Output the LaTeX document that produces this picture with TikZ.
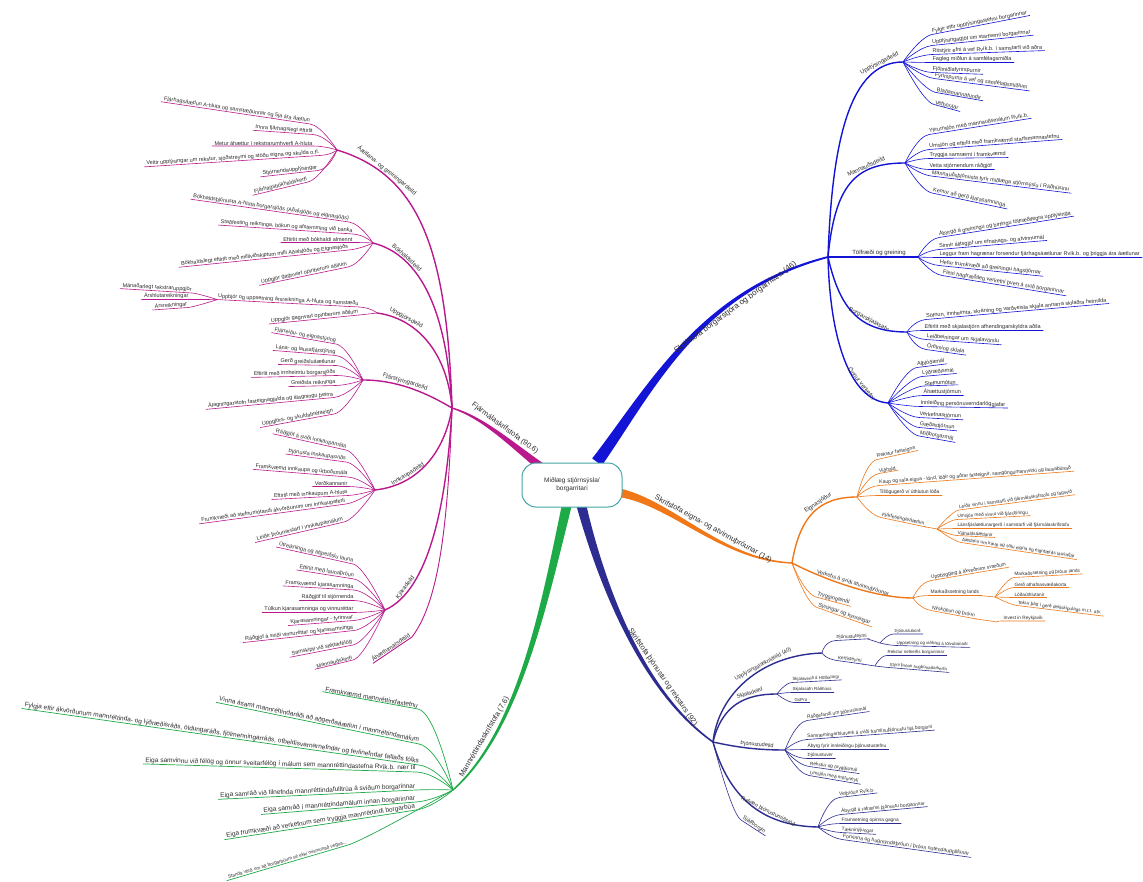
\documentclass[tikz,border=0pt]{standalone}
\usepackage{fontspec}
\setmainfont{Liberation Sans}
\usetikzlibrary{calc}
\definecolor{mag}{RGB}{185,25,140}
\definecolor{blu}{RGB}{20,20,215}
\definecolor{ora}{RGB}{240,120,25}
\definecolor{grn}{RGB}{30,170,70}
\definecolor{nav}{RGB}{45,45,145}
\definecolor{ctr}{RGB}{70,165,165}
\definecolor{txt}{RGB}{45,45,45}
\newcommand\cdist{12pt}
\newcommand\leafR[5][0]{%
  \node[leaf,anchor=south west,rotate=#1] (#3) at #4 {#5};
  \draw[lk] (#2) .. controls (#2) and ($(#3.south west)!-\cdist!(#3.south east)$) .. (#3.south west) -- ($(#3.south east)!-2pt!(#3.south west)$);}
\newcommand\leafL[5][0]{%
  \node[leaf,anchor=south east,rotate=#1] (#3) at #4 {#5};
  \draw[lk] (#2) .. controls (#2) and ($(#3.south east)!-\cdist!(#3.south west)$) .. (#3.south east) -- ($(#3.south west)!-2pt!(#3.south east)$);}
\newcommand\brtaper[6]{%
  \fill[#1] ($#2!#6pt!90:#3$) .. controls ($#3!0.6*#6pt!90:#4$) and ($#4!0.3*#6pt!90:#5$) .. ($#5!0.15*#6pt!-90:#4$) -- ($#5!0.15*#6pt!90:#4$) .. controls ($#4!0.3*#6pt!-90:#5$) and ($#3!0.6*#6pt!-90:#4$) .. ($#2!#6pt!-90:#3$) -- cycle;}
\begin{document}
\begin{tikzpicture}[x=1pt,y=-1pt,
  leaf/.style={inner sep=0.4pt,text=txt,font=\fontsize{5}{6}\selectfont},
  sub/.style={line width=1.4pt,line cap=round},
  slab/.style={sloped,above,inner sep=0.8pt,text=txt,font=\fontsize{6}{7}\selectfont},
  mlab/.style={sloped,above=4pt,inner sep=0.5pt,text=txt,font=\fontsize{7.5}{9}\selectfont}]
\useasboundingbox (0,0) rectangle (1143,882);
\fill[white] (0,0) rectangle (1143,882);
% hubs
\coordinate (sM) at (548,472);  \coordinate (hM) at (452,408);
\coordinate (sB) at (597,462);  \coordinate (hBl) at (828,257);
\coordinate (sO) at (615,492);  \coordinate (hOr) at (792,563);
\coordinate (sN) at (580,500);  \coordinate (hN) at (713,742);
\coordinate (sG) at (568,500);  \coordinate (hG) at (453,790);
\coordinate (hA) at (337,150); \coordinate (hB) at (373,243); \coordinate (hU) at (377,313);
\coordinate (hF) at (363,380); \coordinate (hI) at (375,490); \coordinate (hK) at (385,610);
\coordinate (hUp) at (903,62); \coordinate (hMa) at (905,163); \coordinate (hT) at (918,257);
\coordinate (hBs) at (907,332); \coordinate (hO) at (888,403);
\coordinate (hE) at (857,497); \coordinate (hFj) at (937,529); \coordinate (hV) at (913,598);
\coordinate (hMl) at (995,597); \coordinate (hNy) at (997,622);
\coordinate (hIT) at (822,653); \coordinate (hTh) at (880,643); \coordinate (hKe) at (875,666);
\coordinate (hSk) at (777,694); \coordinate (hTj) at (785,750); \coordinate (hRa) at (818,827);
% main tapered branches
\brtaper{mag}{(sM)}{(515,448)}{(485,418)}{(hM)}{4.5}
\path (hM) .. controls (485,418) and (515,448) .. (sM) node[mlab,pos=.5]{Fjármálaskrifstofa (90.6)};
\brtaper{blu}{(sB)}{(650,390)}{(700,290)}{(hBl)}{6}
\path (sB) .. controls (650,390) and (700,290) .. (hBl) node[mlab,below=6pt,pos=.7,font=\fontsize{8}{9}\selectfont]{Skrifstofa borgarstjóra og borgarritara (46)};
\brtaper{ora}{(sO)}{(670,500)}{(720,560)}{(hOr)}{4.5}
\path (sO) .. controls (670,500) and (720,560) .. (hOr) node[mlab,pos=.57]{Skrifstofa eigna- og atvinnuþróunar (14)};
\brtaper{nav}{(sN)}{(600,580)}{(640,690)}{(hN)}{5}
\path (sN) .. controls (600,580) and (640,690) .. (hN) node[mlab,pos=.7]{Skrifstofa þjónustu og reksturs (92)};
\brtaper{grn}{(sG)}{(545,600)}{(520,730)}{(hG)}{5}
\path (hG) .. controls (520,730) and (545,600) .. (sG) node[mlab,pos=.22]{Mannréttindaskrifstofa (7.6)};
% ---------------- magenta
\begin{scope}[lk/.style={draw=mag,line width=0.6pt},leaf/.style={inner sep=0.4pt,text=txt,font=\fontsize{5.5}{6}\selectfont}]
\draw[mag,sub] (hA) .. controls (420,175) and (447,250) .. (hM) node[slab,pos=.22]{Áætlana- og greiningardeild};
\draw[mag,sub] (hB) .. controls (420,255) and (447,310) .. (hM) node[slab,pos=.25]{Bókhaldsdeild};
\draw[mag,sub] (hU) .. controls (415,318) and (447,350) .. (hM) node[slab,pos=.25]{Uppgjörsdeild};
\draw[mag,sub] (hF) .. controls (400,380) and (430,395) .. (hM) node[slab,pos=.4]{Fjárstýringardeild};
\draw[mag,sub] (hI) .. controls (420,485) and (445,450) .. (hM) node[slab,pos=.3]{Innkaupadeild};
\draw[mag,sub] (hK) .. controls (430,590) and (447,500) .. (hM) node[slab,pos=.2]{Kjaradeild};
\node[slab,sloped=false,anchor=south east,rotate=34] (lAh) at (412,637) {Áhættumatsdeild};
\draw[mag,line width=0.9pt] (hM) .. controls (448,520) and (440,600) .. (lAh.south east) -- (lAh.south west);
\leafL[-8.5]{hA}{a1}{(310,124)}{Fjárhagsáætlun A-hluta og samstæðunnar og 5ja ára áætlun}
\leafL[-4]{hA}{a2}{(313,134.5)}{Innra fjárhagslegt eftirlit}
\leafL{hA}{a3}{(313,146)}{Metur áhættur í rekstrarumhverfi A-hluta}
\leafL[3.7]{hA}{a4}{(320,155.5)}{Veitir upplýsingar um rekstur, sjóðstreymi og stöðu eigna og skulda o.fl.}
\leafL[6.3]{hA}{a5}{(318,170.5)}{Stjórnendaupplýsingar}
\leafL[13.5]{hA}{a6}{(308,182)}{Fjárhagsbókhaldskerfi}
\leafL[-8.2]{hB}{b1}{(349,222)}{Bókhaldsþjónusta A-hluta borgarsjóðs (Aðalsjóðs og eignasjóðs)}
\leafL[-3.8]{hB}{b2}{(353,234)}{Staðfesting reikninga, bókun og afstemming við banka}
\leafL{hB}{b3}{(353,242.5)}{Eftirlit með bókhaldi almennt}
\leafL[5.8]{hB}{b4}{(349,250)}{Bókhaldslegt eftirlit með milliviðskiptum milli Aðalsjóðs og Eignasjóðs}
\leafL[11.7]{hB}{b5}{(348,267)}{Uppgjör gagnvart opinberum aðilum}
\leafL[-3]{hU}{u1}{(359,307)}{Uppbjór og uppsetning ársreikninga A-hluta og samstæðu}
\coordinate (hUa) at (u1.south west);
\leafL[5.7]{hU}{u2}{(359,315)}{Uppgjör gagnvart opinberum aðilum}
\leafL[-10]{hF}{f1}{(336,344)}{Fjárreiðu- og eignastýring}
\leafL[-4.6]{hF}{f2}{(336,355.5)}{Lána- og lausafjárstýring}
\leafL[-1]{hF}{f3}{(336,365.5)}{Gerð greiðsluáætlunar}
\leafL[1.3]{hF}{f4}{(336,375.5)}{Eftirlit með innheimtu borgarsjóðs}
\leafL[1.3]{hF}{f5}{(336,385.5)}{Greiðsla reikninga}
\leafL[5.3]{hF}{f6}{(334,397.5)}{Álagningarstofn fasteignagjalda og álagningu þeirra}
\leafL[10.4]{hF}{f7}{(334,414)}{Uppgjörs- og skuldabréfaeign}
\leafL[-12.5]{hI}{i1}{(346,450)}{Ráðgjöf á sviði innkaupamála}
\leafL[-7.5]{hI}{i2}{(346,462)}{Þjónusta innkaupasviðs}
\leafL[-4.6]{hI}{i3}{(348,477)}{Framkvæmd innkaupa og útboðsmála}
\leafL{hI}{i4}{(348,486.5)}{Verðkannanir}
\leafL[3]{hI}{i5}{(348,495.5)}{Eftirlit með innkaupum A-hluta}
\leafL[7.7]{hI}{i6}{(346,504)}{Frumkvæði að stefnumótandi ákvörðunum um innkaupaferli}
\leafL[13]{hI}{i7}{(344,522)}{Leiðir þróunarstarf í innkaupamálum}
\leafL[-12.5]{hK}{k1}{(353,564)}{Útreikninga og afgreiðslu launa}
\leafL[-9]{hK}{k2}{(354,579)}{Eftirlit með launaþróun}
\leafL[-3.3]{hK}{k3}{(354,590)}{Framkvæmd kjarasamninga}
\leafL{hK}{k4}{(354,600.5)}{Ráðgjöf til stjórnenda}
\leafL{hK}{k5}{(354,612.5)}{Túlkun kjarasamninga og vinnuréttar}
\leafL[4.4]{hK}{k6}{(354,620.5)}{Kjarasamningar - fyrirsvar}
\leafL[6.2]{hK}{k7}{(354,630.5)}{Ráðgjöf á sviði vinnuréttar og kjarasamninga}
\leafL[11]{hK}{k8}{(353,645)}{Samskipti við stéttarfélög}
\leafL[13.7]{hK}{k9}{(353,660)}{Mannauðskerfi}
\renewcommand\cdist{6pt}
\leafL[-3.5]{hUa}{u3}{(192,293)}{Mánaðarlegt rekstraruppgjör}
\leafL{hUa}{u4}{(189,299.5)}{Árshlutareikningar}
\leafL[4]{hUa}{u5}{(188,307.5)}{Ársreikningar}
\end{scope}
% ---------------- green
\begin{scope}[lk/.style={draw=grn,line width=0.7pt},leaf/.style={inner sep=0.4pt,text=txt,font=\fontsize{6.5}{7}\selectfont}]
\renewcommand\cdist{18pt}
\leafL[-10.3]{hG}{g1}{(418,709)}{Framkvæmd mannréttindastefnu}
\leafL[-11.6]{hG}{g2}{(419,744)}{Vinna ásamt mannréttindaráði að aðgerðaáætlun í mannréttindamálum}
\leafL[-8.1]{hG}{g3}{(419,765)}{Fylgja eftir ákvörðunum mannréttinda- og lýðræðisráðs, öldungaráðs, fjölmenningarráðs, ofbeldisvarnarnefndar og ferlinefndar fatlaðs fólks}
\leafL[-1.7]{hG}{g4}{(416,772)}{Eiga samvinnu við félög og önnur sveitarfélög í málum sem mannréttindastefna Rvík.b. nær til}
\leafL[2.7]{hG}{g5}{(416,790)}{Eiga samráð við tilnefnda mannréttindafulltrúa á sviðum borgarinnar}
\leafL[4.6]{hG}{g6}{(416,802)}{Eiga samráð í mannréttindamálum innan borgarinnar}
\leafL[8.8]{hG}{g7}{(416,810)}{Eiga frumkvæði að verkefnum sem tryggja mannréttindi borgarbúa}
\leafL[16.4]{hG}{g8}{(348,845)}{\fontsize{4.7}{5}\selectfont Standa vörð um að borgarbúum sé ekki mismunað vegna...}
\end{scope}
% ---------------- blue
\begin{scope}[lk/.style={draw=blu,line width=0.6pt},leaf/.style={inner sep=0.4pt,text=txt,font=\fontsize{5.5}{6}\selectfont}]
\draw[blu,sub] (hBl) .. controls (832,140) and (850,62) .. (hUp) node[slab,pos=.85]{Upplýsingadeild};
\draw[blu,sub] (hBl) .. controls (835,185) and (855,163) .. (hMa) node[slab,pos=.7]{Mannauðsdeild};
\draw[blu,sub] (hBl) .. controls (860,257) and (890,257) .. (hT) node[slab,pos=.55]{Tölfræði og greining};
\draw[blu,sub] (hBl) .. controls (840,310) and (860,332) .. (hBs) node[slab,pos=.65]{Borgarskjalasafn};
\draw[blu,sub] (hBl) .. controls (830,340) and (850,400) .. (hO) node[slab,pos=.7]{Önnur verkefni};
\leafR[11]{hUp}{p1}{(932,34.5)}{Fylgir eftir upplýsingastefnu borgarinnar}
\leafR[5.8]{hUp}{p2}{(932,45.5)}{Upplýsingagjöf um starfsemi borgarinnar}
\leafR[2]{hUp}{p3}{(932,54.5)}{Ritstýrir efni á vef Rvík.b. í samstarfi við aðra}
\leafR{hUp}{p4}{(932,62.5)}{Fagleg miðlun á samfélagsmiðla}
\leafR[-2]{hUp}{p5}{(932,72.5)}{Fjölmiðlafyrirspurnir}
\leafR[-7.4]{hUp}{p6}{(934,78.5)}{Fyrirspurnir á vef og samfélagsmiðlum}
\leafR[-10]{hUp}{p7}{(936,92.5)}{Blaðamannafundir}
\leafR[-15]{hUp}{p8}{(934,104.5)}{Vefborðar}
\leafR[9]{hMa}{m1}{(929,134.5)}{Yfirumsjón með mannauðsmálum Rvík.b.}
\leafR[4.3]{hMa}{m2}{(929,149.5)}{Umsjón og eftirlit með framkvæmd starfsmannastefnu}
\leafR[0.7]{hMa}{m3}{(929,158.5)}{Tryggja samræmi í framkvæmd}
\leafR{hMa}{m4}{(929,169.5)}{Veita stjórnendum ráðgjöf}
\leafR[-7]{hMa}{m5}{(931,176)}{Mannauðsþjónusta fyrir miðlæga stjórnsýslu í Ráðhúsinu}
\leafR[-12]{hMa}{m6}{(932,193)}{Kemur að gerð kjarasamninga}
\leafR[9]{hT}{t1}{(939,237.5)}{Ábyrgð á greiningu og birtingu tölfræðilegra upplýsinga}
\leafR[4.8]{hT}{t2}{(939,249.5)}{Sinnir álitsgjöf um efnahags- og atvinnumál}
\leafR{hT}{t3}{(939,257.5)}{Leggur fram hagrænar forsendur fjárhagsáætlunar Rvík.b. og þriggja ára áætlunar}
\leafR[-5.9]{hT}{t4}{(939,265.5)}{Hefur frumkvæði að greiningu hagstjórnar}
\leafR[-9.3]{hT}{t5}{(942,275.5)}{Fleiri hagfræðileg verkefni þvert á svið borgarinnar}
\leafR[5]{hBs}{s1}{(926,319.5)}{Söfnun, innheimta, skráning og varðveisla skjala annarra skilaðra heimilda}
\leafR{hBs}{s2}{(924,330.5)}{Eftirlit með skjalastjórn afhendingarskyldra aðila}
\leafR[-4]{hBs}{s3}{(926,339.5)}{Leiðbeiningar um skjalavörslu}
\leafR[-8]{hBs}{s4}{(926,349.5)}{Örfilming skjala}
\leafR[7]{hO}{o1}{(917,367.5)}{Alþjóðamál}
\leafR[5]{hO}{o2}{(922,376.5)}{Lýðræðismál}
\leafR[2]{hO}{o3}{(924,386)}{Stefnumótun}
\leafR{hO}{o4}{(923,395.5)}{Áhættustjórnun}
\leafR[-1]{hO}{o5}{(920,406.5)}{Innleiðing persónuverndarlöggjafar}
\leafR[-3]{hO}{o6}{(919,417.5)}{Verkefnastjórnun}
\leafR[-5]{hO}{o7}{(919,427.5)}{Gæðastjórnun}
\leafR[-10]{hO}{o8}{(919,436)}{Miðborgarmál}
\end{scope}
% ---------------- orange
\begin{scope}[lk/.style={draw=ora,line width=0.6pt}]
\draw[ora,sub] (hOr) .. controls (800,515) and (820,497) .. (hE) node[slab,pos=.6]{Eignasjóður};
\draw[ora,sub] (hOr) .. controls (815,575) and (870,598) .. (hV) node[slab,pos=.55,font=\fontsize{5.5}{6}\selectfont]{Verkefni á sviði atvinnuþróunar};
\leafR[12.5]{hE}{e1}{(877,459.5)}{Rekstur fasteigna}
\leafR[10]{hE}{e2}{(879,473.5)}{Viðhald}
\leafR[4.2]{hE}{e3}{(879,485.5)}{Kaup og sala eigna - lönd, lóðir og aðrar fasteignir, samgöngumannvirki og lausabúnað}
\leafR{hE}{e4}{(879,495.5)}{Tillögugerð v/ úthlutun lóða}
\leafR[-12]{hE}{e5}{(881,517.5)}{Fjárfestingaráætlun}
\draw[lk] (e5.south east) -- (hFj);
\leafR[-15]{hOr}{e6}{(816,597)}{\fontsize{5.5}{6}\selectfont Tryggingamál}
\leafR[-19.5]{hOr}{e7}{(817,607.5)}{\fontsize{5.5}{6}\selectfont Sýningar og kynningar}
\leafR[9.7]{hV}{v1}{(931,580.5)}{Uppbygging á ákveðnum svæðum}
\leafR{hV}{v2}{(930,595.5)}{Markaðssetning lands}
\draw[lk] (v2.south east) -- (hMl);
\leafR[-10.6]{hV}{v3}{(931,610.5)}{Nýsköpun og þróun}
\draw[lk] (v3.south east) -- (hNy);
\renewcommand\cdist{7pt}
\begin{scope}[leaf/.style={inner sep=0.4pt,text=txt,font=\fontsize{4.7}{5}\selectfont}]
\leafR[7.5]{hFj}{j1}{(959,510)}{Leiðir vinnu í samstarfi við fjármálaskrifstofu og fagsvið}
\leafR[3]{hFj}{j2}{(957,519.5)}{Umsjón með vinnu við fjárstýringu}
\leafR{hFj}{j3}{(957,528.5)}{Lánsfjáráætlunargerð í samstarfi við fjármálaskrifstofu}
\leafR[-3]{hFj}{j4}{(957,535.5)}{Viðhaldsáætlanir}
\leafR[-8.4]{hFj}{j5}{(961,542.5)}{Áætlanir um kaup og sölu eigna og eignfærðs lausafjár}
\leafR[3]{hMl}{w1}{(1014,577.5)}{Markaðssetning og þróun lands}
\leafR{hMl}{w2}{(1014,587.5)}{Gerð athafnasvæðakorta}
\leafR{hMl}{w3}{(1014,597.5)}{Lóðaúthlutanir}
\leafR[-7]{hMl}{w4}{(1017,605.5)}{Tekur þátt í gerð deiliskipulags m.t.t. atv.}
\leafR{hNy}{w5}{(1003,621)}{Invest in Reykjavík}
\end{scope}
\end{scope}
% ---------------- navy
\begin{scope}[lk/.style={draw=nav,line width=0.6pt},leaf/.style={inner sep=0.4pt,text=txt,font=\fontsize{4.8}{5.5}\selectfont},slab/.append style={font=\fontsize{5.5}{6}\selectfont}]
\draw[nav,sub] (hN) .. controls (718,695) and (760,655) .. (hIT) node[slab,pos=.65]{Upplýsingatæknideild (40)};
\draw[nav,sub] (hN) .. controls (722,705) and (745,694) .. (hSk) node[slab,pos=.7]{Skjaladeild};
\draw[nav,sub] (hN) .. controls (740,748) and (760,750) .. (hTj) node[slab,pos=.6]{Þjónustudeild};
\draw[nav,sub] (hN) .. controls (728,795) and (760,826) .. (hRa) node[slab,pos=.65]{Rafræn þjónustumiðstöð};
\leafR[-33]{hN}{r6}{(741,820)}{\fontsize{5.5}{6}\selectfont Sjálfborgin}
\leafR[3]{hIT}{n1}{(836,640.5)}{Þjónustuteymi}
\draw[lk] (n1.south east) -- (hTh);
\leafR[-8]{hIT}{n2}{(837,660.5)}{Kerfisteymi}
\draw[lk] (n2.south east) -- (hKe);
\leafR[8.2]{hTj}{q1}{(807,720.5)}{Ráðgefandi um þjónustumál}
\leafR[4.2]{hTj}{q2}{(807,739.5)}{Samræmingarhlutverk á sviði framlínuþjónustu hjá borginni}
\leafR{hTj}{q3}{(807,749.5)}{Ábyrg fyrir innleiðingu þjónustustefnu}
\leafR{hTj}{q4}{(807,758.5)}{Þjónustuver}
\leafR[-8]{hTj}{q5}{(809,766.5)}{Rekstur og öryggismál}
\leafR[-9.6]{hTj}{q6}{(809,775.5)}{Umsjón með mötuneyti}
\leafR[6.8]{hRa}{r1}{(839,797.5)}{Vefþróun Rvík.b.}
\leafR[5.2]{hRa}{r2}{(841,814.5)}{Ábyrgð á rafrænni þjónustu borgarinnar}
\leafR{hRa}{r3}{(841,823.5)}{Framsetning opinna gagna}
\leafR[-3]{hRa}{r4}{(841,832.5)}{Tækninýjungar}
\leafR[-7.9]{hRa}{r5}{(842,839.5)}{\fontsize{5.2}{6}\selectfont Forvinna og hugmyndaþróun í þróun notendaupplifunar}
\renewcommand\cdist{7pt}
\begin{scope}[leaf/.style={inner sep=0.4pt,text=txt,font=\fontsize{4.4}{5}\selectfont}]
\leafR{hTh}{n3}{(894,634)}{Þjónustuborð}
\leafR[-1.5]{hTh}{n4}{(896,645.5)}{Uppsetning og viðhald á tölvubúnaði}
\leafR{hKe}{n5}{(887,655.5)}{Rekstur netkerfis borgarinnar}
\leafR[-4.7]{hKe}{n6}{(889,667.5)}{Stýrir þróun hugbúnaðarkerfa}
\leafR[3]{hSk}{n7}{(792,682.5)}{Skjalaverið á Höfðatorgi}
\leafR{hSk}{n8}{(792,692.5)}{Skjalasafn Ráðhúss}
\leafR{hSk}{n9}{(794,702.5)}{GoPro}
\end{scope}
\end{scope}
% centre
\node[draw=ctr,line width=1pt,rounded corners=14pt,fill=white,minimum width=100pt,minimum height=44pt,align=center,text=txt,font=\fontsize{6.5}{8}\selectfont] (c) at (572,485) {Miðlæg stjórnsýsla/\\borgarritari};
\end{tikzpicture}
\end{document}
